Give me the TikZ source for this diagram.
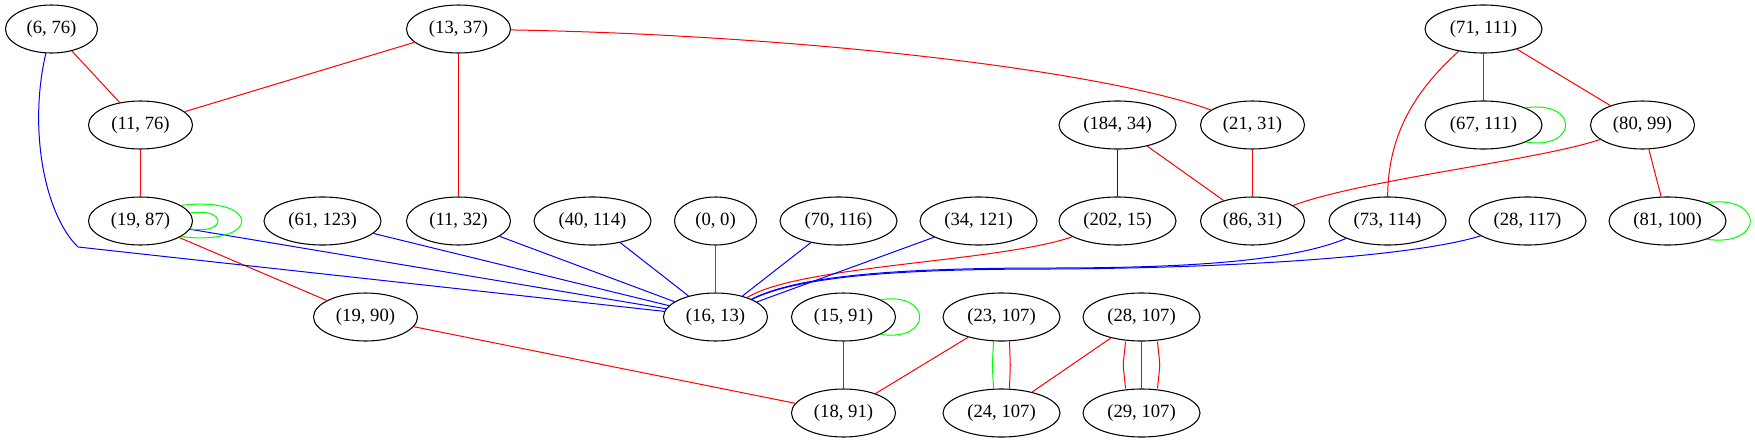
\documentclass[tikz,border=0pt]{standalone}
\usepackage{fontspec}
\setmainfont{Liberation Serif}
\usetikzlibrary{shapes.geometric}
\definecolor{gvred}{RGB}{255,0,0}
\definecolor{gvblue}{RGB}{0,0,255}
\definecolor{gvgreen}{RGB}{0,255,0}
\definecolor{gvpurple}{RGB}{160,32,240}
\begin{document}
\begin{tikzpicture}[x=0.75pt,y=-0.75pt,
  nd/.style={ellipse,draw,line width=0.8pt,inner sep=0pt,minimum height=36pt,minimum width=78pt,xshift=0.375pt,font=\fontsize{14}{16}\selectfont},
  wide/.style={minimum width=87.75pt},
  ed/.style={line width=0.75pt},
  rd/.style={ed,draw=gvred},
  bl/.style={ed,draw=gvblue},
  gr/.style={ed,draw=gvgreen},
  pu/.style={ed,draw=gvpurple}]
\useasboundingbox (0,0) rectangle (1755,443);
% row 1
\node[nd,minimum width=69pt] (n6x76) at (51,29) {(6, 76)};
\node[nd] (n13x37) at (458,29) {(13, 37)};
\node[nd,wide] (n71x111) at (1483,29) {(71, 111)};
% row 2
\node[nd] (n11x76) at (140,125) {(11, 76)};
\node[nd,wide] (n184x34) at (1117,125) {(184, 34)};
\node[nd] (n21x31) at (1252,125) {(21, 31)};
\node[nd,wide] (n67x111) at (1483,125) {(67, 111)};
\node[nd] (n80x99) at (1642,125) {(80, 99)};
% row 3
\node[nd] (n19x87) at (140,221) {(19, 87)};
\node[nd,wide] (n61x123) at (322,221) {(61, 123)};
\node[nd] (n11x32) at (458,221) {(11, 32)};
\node[nd,wide] (n40x114) at (592,221) {(40, 114)};
\node[nd,minimum width=61.5pt] (n0x0) at (715,221) {(0, 0)};
\node[nd,wide] (n70x116) at (838,221) {(70, 116)};
\node[nd,wide] (n34x121) at (978,221) {(34, 121)};
\node[nd,wide] (n202x15) at (1117,221) {(202, 15)};
\node[nd] (n86x31) at (1252,221) {(86, 31)};
\node[nd,wide] (n73x114) at (1387,221) {(73, 114)};
\node[nd,wide] (n28x117) at (1527,221) {(28, 117)};
\node[nd,wide] (n81x100) at (1667,221) {(81, 100)};
% row 4
\node[nd] (n19x90) at (365,317) {(19, 90)};
\node[nd] (n16x13) at (715,317) {(16, 13)};
\node[nd] (n15x91) at (843,317) {(15, 91)};
\node[nd,wide] (n23x107) at (1001,317) {(23, 107)};
\node[nd,wide] (n28x107) at (1141,317) {(28, 107)};
% row 5
\node[nd] (n18x91) at (843,413) {(18, 91)};
\node[nd,wide] (n24x107) at (1001,413) {(24, 107)};
\node[nd,wide] (n29x107) at (1141,413) {(29, 107)};

% red edges
\draw[rd] (n6x76) -- (n11x76);
\draw[rd] (n13x37) -- (n11x76);
\draw[rd] (n13x37) -- (n11x32);
\draw[rd] (n13x37) .. controls (800,35) and (1100,70) .. (n21x31);
\draw[rd] (n11x76) -- (n19x87);
\draw[rd] (n19x87) -- (n19x90);
\draw[rd] (n19x90) -- (n18x91);
\draw[rd] (n184x34) -- (n86x31);
\draw[rd] (n21x31) -- (n86x31);
\draw[rd] (n71x111) -- (n67x111);
\draw[rd] (n71x111) -- (n80x99);
\draw[rd] (n71x111) .. controls (1410,95) and (1388,140) .. (n73x114);
\draw[rd] (n80x99) .. controls (1540,160) and (1360,180) .. (n86x31);
\draw[rd] (n80x99) -- (n81x100);
\draw[rd] (n202x15) .. controls (1000,262) and (800,265) .. (n16x13);
\draw[rd] (n15x91) -- (n18x91);
\draw[rd] (n23x107) -- (n18x91);
\draw[rd] (n28x107) -- (n24x107);
\draw[gr] ([xshift=-6pt]n23x107.south) .. controls +(-1.5,32) and +(-1.5,-32) .. ([xshift=-6pt]n24x107.north);
\draw[rd] ([xshift=6pt]n23x107.south) .. controls +(1,32) and +(1,-32) .. ([xshift=6pt]n24x107.north);
\draw[rd] ([xshift=-12pt]n28x107.south) .. controls +(-3,32) and +(-3,-32) .. ([xshift=-12pt]n29x107.north);
\draw[rd] (n28x107) -- (n29x107);
\draw[rd] ([xshift=12pt]n28x107.south) .. controls +(3,32) and +(3,-32) .. ([xshift=12pt]n29x107.north);

% blue edges
\draw[bl] (n6x76) .. controls (28,130) and (45,215) .. (78,247) -- (n16x13);
\draw[bl] (n19x87) -- (n16x13);
\draw[bl] (n61x123) -- (n16x13);
\draw[bl] (n11x32) -- (n16x13);
\draw[bl] (n40x114) -- (n16x13);
\draw[bl] (n70x116) -- (n16x13);
\draw[bl] (n34x121) -- (n16x13);
\draw[bl] (n184x34) -- (n202x15);
\draw[bl] (n73x114) .. controls (1290,262) and (1180,268) .. (1050,268)
                    .. controls (900,268) and (800,275) .. (n16x13);
\draw[bl] (n28x117) .. controls (1420,255) and (1250,268) .. (1050,269)
                    .. controls (900,269) and (800,276) .. (n16x13);
% purple
\draw[pu] (n0x0) -- (n16x13);

% green self loops
\draw[gr] (n19x87.21) .. controls +(81,-10) and +(81,10) .. (n19x87.-21);
\draw[gr] (n19x87.9) .. controls +(37,-6) and +(37,6) .. (n19x87.-9);
\draw[gr] (n67x111.22) .. controls +(53,-8) and +(53,8) .. (n67x111.-22);
\draw[gr] (n81x100.25) .. controls +(58,-8) and +(58,8) .. (n81x100.-25);
\draw[gr] (n15x91.25) .. controls +(52,-8) and +(52,8) .. (n15x91.-25);
\end{tikzpicture}
\end{document}
